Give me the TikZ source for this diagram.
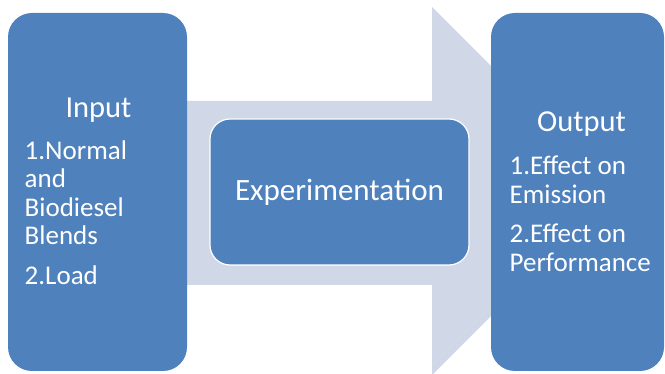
\documentclass[tikz,border=0pt]{standalone}
\usepackage{fontspec}
\setmainfont{Carlito}
\definecolor{boxblue}{HTML}{4F81BD}
\definecolor{flowgray}{HTML}{D0D8E8}

\begin{document}
\begin{tikzpicture}[x=1pt, y=-1pt,
    stagebox/.style={fill=boxblue, rounded corners=24pt, inner sep=0pt},
    heading/.style={text=white, font=\fontsize{30.5}{34}\selectfont, inner sep=0pt, anchor=base},
    itemtext/.style={text=white, font=\fontsize{27}{28.5}\selectfont, align=left, inner sep=0pt, anchor=base west}]
    \useasboundingbox (0,0) rectangle (665,374);
    % block arrow behind the three stages
    \fill[flowgray] (150,101) -- (432,101) -- (432,7) -- (616,191) -- (432,375) -- (432,285) -- (150,285) -- cycle;
    \node[stagebox, minimum width=179pt, minimum height=358pt] (input) at (97.5,192) {};
    \node[stagebox, minimum width=173pt, minimum height=358pt] (output) at (577.5,192) {};
    \node[stagebox, draw=white, line width=1.2pt, rounded corners=20pt, minimum width=259pt, minimum height=146pt,
        text=white, font=\fontsize{31}{34}\selectfont] (expt) at (339.5,192) {Experimentation};
    % input side (base anchor = last line)
    \node[heading] (inhead) at (98.5,118) {Input};
    \node[itemtext] (initem1) at (24.5,245) {1.Normal\\and\\Biodiesel\\Blends};
    \node[itemtext] (initem2) at (24.5,285) {2.Load};
    % output side
    \node[heading] (outhead) at (581.5,131.5) {Output};
    \node[itemtext] (outitem1) at (509.5,203.5) {1.Effect on\\Emission};
    \node[itemtext] (outitem2) at (509.5,271.5) {2.Effect on\\Performance};
\end{tikzpicture}
\end{document}
